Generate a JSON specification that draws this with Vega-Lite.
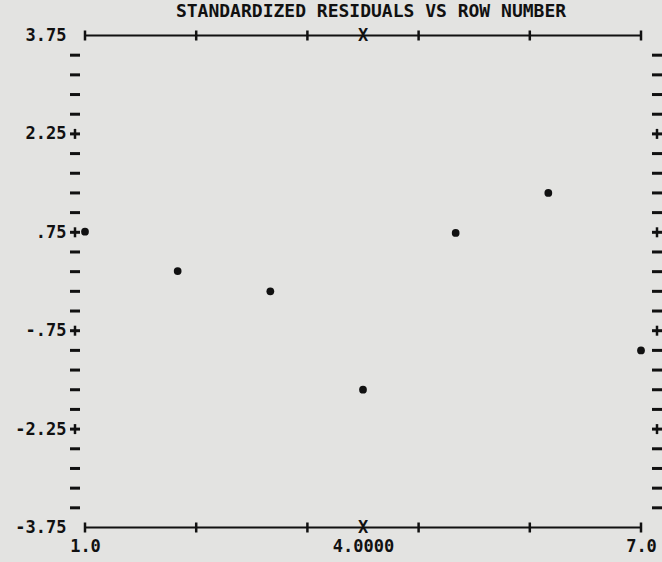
{
  "$schema": "https://vega.github.io/schema/vega-lite/v6.json",
  "width": 556,
  "height": 492,
  "autosize": {"type": "none"},
  "padding": {"left": 85, "top": 35.5, "right": 21, "bottom": 34.5},
  "background": "#e3e3e1",
  "config": {"view": {"stroke": null}, "font": "DejaVu Sans Mono"},
  "title": {
    "text": "STANDARDIZED RESIDUALS VS ROW NUMBER",
    "anchor": "middle",
    "frame": "group",
    "font": "DejaVu Sans Mono",
    "fontSize": 18,
    "fontWeight": "bold",
    "color": "#111",
    "offset": 6,
    "dx": 8
  },
  "datasets": {
    "resid": [
      {"row": 1, "residual": 0.76},
      {"row": 2, "residual": 0.16},
      {"row": 3, "residual": -0.15},
      {"row": 4, "residual": -1.65},
      {"row": 5, "residual": 0.74},
      {"row": 6, "residual": 1.35},
      {"row": 7, "residual": -1.05}
    ],
    "frame": [
      {"residual": 3.75},
      {"residual": -3.75}
    ],
    "xticks": [
      {"row": 1, "residual": 3.75}, {"row": 2.2, "residual": 3.75}, {"row": 3.4, "residual": 3.75},
      {"row": 4.6, "residual": 3.75}, {"row": 5.8, "residual": 3.75}, {"row": 7, "residual": 3.75},
      {"row": 1, "residual": -3.75}, {"row": 2.2, "residual": -3.75}, {"row": 3.4, "residual": -3.75},
      {"row": 4.6, "residual": -3.75}, {"row": 5.8, "residual": -3.75}, {"row": 7, "residual": -3.75}
    ],
    "xmark": [
      {"row": 4, "residual": 3.75, "ch": "X"},
      {"row": 4, "residual": -3.75, "ch": "X"}
    ],
    "yticks": [
      {"residual": 3.45, "kind": "dash"}, {"residual": 3.15, "kind": "dash"}, {"residual": 2.85, "kind": "dash"},
      {"residual": 2.55, "kind": "dash"}, {"residual": 2.25, "kind": "plus"}, {"residual": 1.95, "kind": "dash"},
      {"residual": 1.65, "kind": "dash"}, {"residual": 1.35, "kind": "dash"}, {"residual": 1.05, "kind": "dash"},
      {"residual": 0.75, "kind": "plus"}, {"residual": 0.45, "kind": "dash"}, {"residual": 0.15, "kind": "dash"},
      {"residual": -0.15, "kind": "dash"}, {"residual": -0.45, "kind": "dash"}, {"residual": -0.75, "kind": "plus"},
      {"residual": -1.05, "kind": "dash"}, {"residual": -1.35, "kind": "dash"}, {"residual": -1.65, "kind": "dash"},
      {"residual": -1.95, "kind": "dash"}, {"residual": -2.25, "kind": "plus"}, {"residual": -2.55, "kind": "dash"},
      {"residual": -2.85, "kind": "dash"}, {"residual": -3.15, "kind": "dash"}, {"residual": -3.45, "kind": "dash"}
    ]
  },
  "layer": [
    {
      "data": {"name": "resid"},
      "mark": {"type": "circle", "size": 60, "opacity": 1, "color": "#111"},
      "encoding": {
        "x": {
          "field": "row", "type": "quantitative",
          "scale": {"domain": [1, 7], "nice": false, "zero": false},
          "axis": {
            "values": [1, 4, 7],
            "labelExpr": "datum.value == 4 ? '4.0000' : format(datum.value, '.1f')",
            "domain": false, "ticks": false, "tickSize": 0, "grid": false, "title": null,
            "labelFont": "DejaVu Sans Mono", "labelFontWeight": "bold", "labelFontSize": 17,
            "labelColor": "#111", "labelPadding": 11, "labelFlush": false, "labelOverlap": false
          }
        },
        "y": {
          "field": "residual", "type": "quantitative",
          "scale": {"domain": [-3.75, 3.75], "nice": false, "zero": false},
          "axis": {
            "values": [3.75, 2.25, 0.75, -0.75, -2.25, -3.75],
            "labelExpr": "replace(datum.value + '', '0.', '.')",
            "domain": false, "ticks": false, "tickSize": 0, "grid": false, "title": null,
            "labelFont": "DejaVu Sans Mono", "labelFontWeight": "bold", "labelFontSize": 17,
            "labelColor": "#111", "labelPadding": 19, "labelBaseline": "middle",
            "labelFlush": false, "labelOverlap": false
          }
        }
      }
    },
    {
      "data": {"name": "frame"},
      "mark": {"type": "rule", "strokeWidth": 2, "color": "#111"},
      "encoding": {
        "x": {"datum": 1, "type": "quantitative"},
        "x2": {"datum": 7},
        "y": {"field": "residual", "type": "quantitative"}
      }
    },
    {
      "data": {"name": "xticks"},
      "mark": {"type": "tick", "orient": "vertical", "size": 10, "thickness": 2.5, "color": "#111", "opacity": 1},
      "encoding": {
        "x": {"field": "row", "type": "quantitative"},
        "y": {"field": "residual", "type": "quantitative"}
      }
    },
    {
      "data": {"name": "xmark"},
      "mark": {"type": "text", "font": "DejaVu Sans Mono", "fontWeight": "bold", "fontSize": 17, "baseline": "middle", "align": "center", "color": "#111"},
      "encoding": {
        "x": {"field": "row", "type": "quantitative"},
        "y": {"field": "residual", "type": "quantitative"},
        "text": {"field": "ch"}
      }
    },
    {
      "data": {"name": "yticks"},
      "mark": {"type": "tick", "orient": "horizontal", "size": 10, "thickness": 3, "color": "#111", "opacity": 1, "xOffset": -10},
      "encoding": {
        "x": {"datum": 1, "type": "quantitative"},
        "y": {"field": "residual", "type": "quantitative"}
      }
    },
    {
      "data": {"name": "yticks"},
      "mark": {"type": "tick", "orient": "horizontal", "size": 10, "thickness": 3, "color": "#111", "opacity": 1, "xOffset": 16},
      "encoding": {
        "x": {"datum": 7, "type": "quantitative"},
        "y": {"field": "residual", "type": "quantitative"}
      }
    },
    {
      "data": {"name": "yticks"},
      "transform": [{"filter": "datum.kind == 'plus'"}],
      "mark": {"type": "tick", "orient": "vertical", "size": 10, "thickness": 2.5, "color": "#111", "opacity": 1, "xOffset": -10},
      "encoding": {
        "x": {"datum": 1, "type": "quantitative"},
        "y": {"field": "residual", "type": "quantitative"}
      }
    },
    {
      "data": {"name": "yticks"},
      "transform": [{"filter": "datum.kind == 'plus'"}],
      "mark": {"type": "tick", "orient": "vertical", "size": 10, "thickness": 2.5, "color": "#111", "opacity": 1, "xOffset": 16},
      "encoding": {
        "x": {"datum": 7, "type": "quantitative"},
        "y": {"field": "residual", "type": "quantitative"}
      }
    }
  ]
}
